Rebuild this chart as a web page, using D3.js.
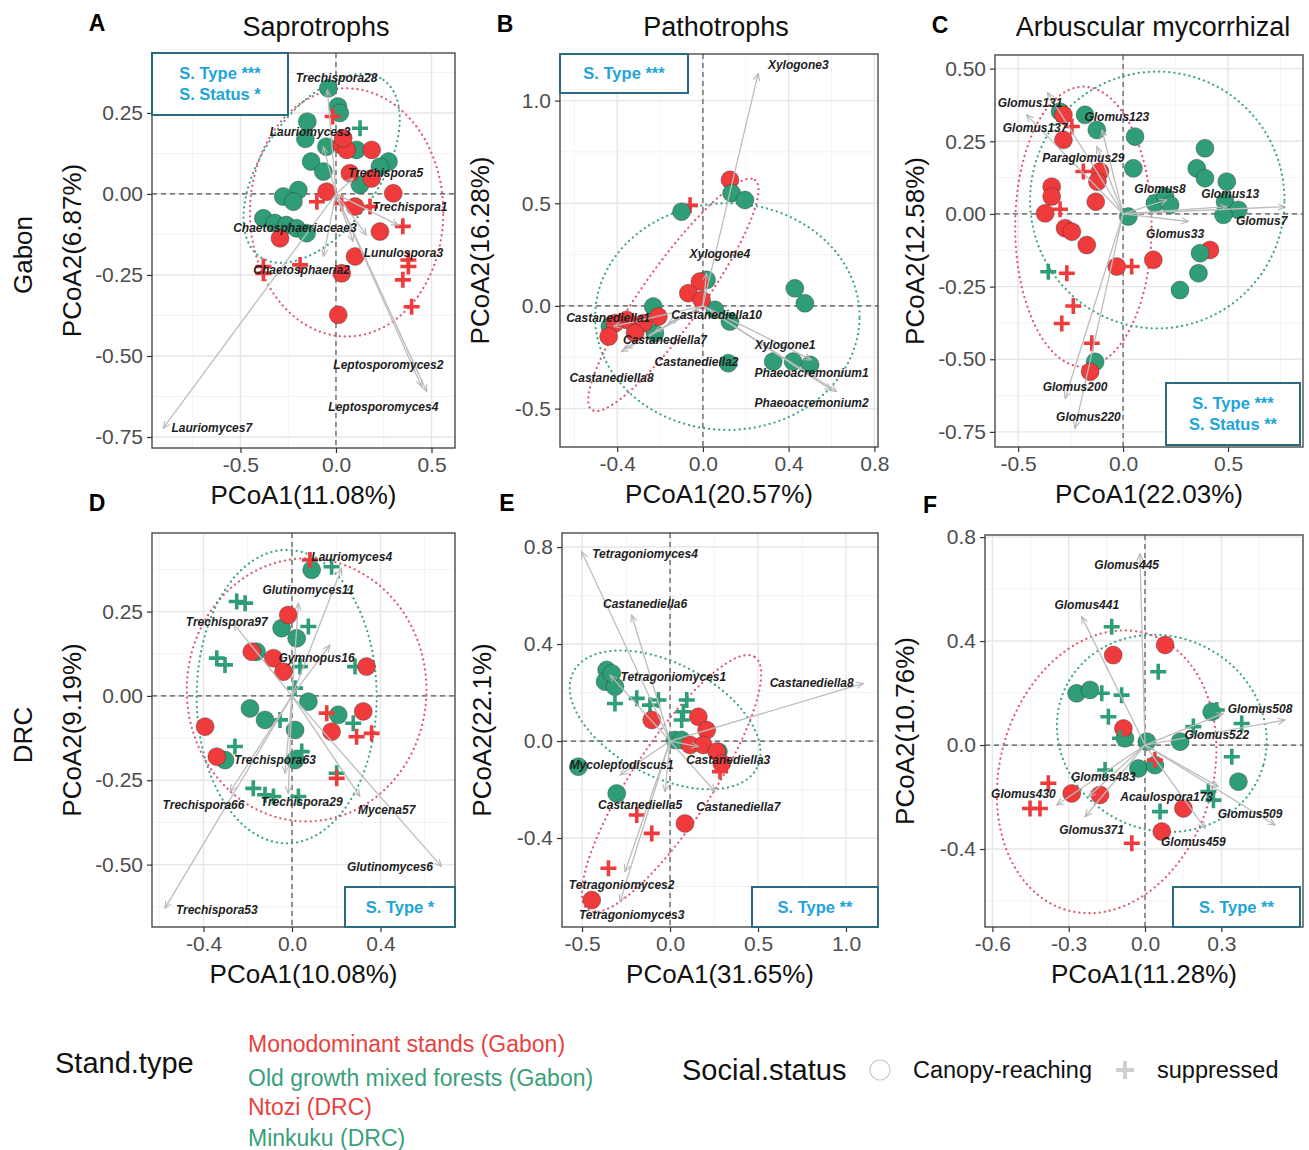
<!DOCTYPE html>
<html>
<head>
<meta charset="utf-8">
<script src="https://cdn.jsdelivr.net/npm/d3@7"></script>
<style>
body { margin: 0; background: #fff; }
svg { display: block; }
text { font-family: "Liberation Sans", Arial, sans-serif; }
</style>
</head>
<body>
<script>
// ---- data -------------------------------------------------------------
var standTypes = ["Monodominant stands (Gabon)", "Old growth mixed forests (Gabon)", "Ntozi (DRC)", "Minkuku (DRC)"];
var socialStatus = ["Canopy-reaching", "suppressed"];
var guildTitles = ["Saprotrophs", "Pathotrophs", "Arbuscular mycorrhizal"];
var regionTitles = ["Gabon", "DRC"];
var panelLetters = ["A", "B", "C", "D", "E", "F"];
var xTitles = ["PCoA1(11.08%)", "PCoA1(20.57%)", "PCoA1(22.03%)", "PCoA1(10.08%)", "PCoA1(31.65%)", "PCoA1(11.28%)"];
var yTitles = ["PCoA2(6.87%)", "PCoA2(16.28%)", "PCoA2(12.58%)", "PCoA2(9.19%)", "PCoA2(22.1%)", "PCoA2(10.76%)"];
var statTexts = [["S. Type ***", "S. Status *"], ["S. Type ***"], ["S. Type ***", "S. Status **"], ["S. Type *"], ["S. Type **"], ["S. Type **"]];

var xTicks = [[-0.5, 0, 0.5], [-0.4, 0, 0.4, 0.8], [-0.5, 0, 0.5], [-0.4, 0, 0.4], [-0.5, 0, 0.5, 1.0], [-0.6, -0.3, 0, 0.3]];
var yTicks = [[-0.75, -0.5, -0.25, 0, 0.25], [-0.5, 0, 0.5, 1.0], [-0.75, -0.5, -0.25, 0, 0.25, 0.5], [-0.5, -0.25, 0, 0.25], [-0.4, 0, 0.4, 0.8], [-0.4, 0, 0.4, 0.8]];
var yDigits = [2, 1, 2, 2, 1, 1];

// points: [PCoA1, PCoA2, stand type index, social status index]
var ptsA = [
  [-0.04,0.326,1,0],[0.01,0.27,1,0],[0.02,0.25,1,0],[-0.15,0.223,1,0],[-0.16,0.17,1,0],[-0.05,0.146,1,0],
  [-0.13,0.10,1,0],[-0.066,0.069,1,0],[0.108,0.136,1,0],[0.275,0.10,1,0],[0.23,0.084,1,0],[0.126,0.028,1,0],
  [-0.197,0.012,1,0],[-0.276,-0.008,1,0],[-0.223,-0.024,1,0],[-0.38,-0.075,1,0],[-0.32,-0.09,1,0],
  [-0.26,-0.096,1,0],[-0.206,-0.106,1,0],[-0.154,-0.121,1,0],
  [0.03,0.151,0,0],[0.056,0.136,0,0],[0.038,0.172,0,0],[0.187,0.136,0,0],[0.073,0.064,0,0],[0.187,0.048,0,0],
  [0.30,0.002,0,0],[-0.049,0.007,0,0],[0.1,-0.039,0,0],[0.23,-0.116,0,0],[-0.293,-0.137,0,0],[0.1,-0.193,0,0],
  [0.03,-0.245,0,0],[0.012,-0.373,0,0],
  [0.126,0.203,1,1],
  [-0.017,0.239,0,1],[-0.10,-0.024,0,1],[0.03,-0.029,0,1],[0.178,-0.039,0,1],[0.35,-0.10,0,1],[0.379,-0.204,0,1],
  [0.379,-0.224,0,1],[0.35,-0.265,0,1],[0.396,-0.348,0,1],[-0.38,-0.224,0,1],[-0.38,-0.245,0,1],[-0.188,-0.219,0,1]
];
var ptsB = [
  [-0.06,0.49,0,1],
  [0.126,0.614,0,0],
  [0.134,0.549,1,0],[0.196,0.516,1,0],[-0.1,0.459,1,0],[0.017,0.127,1,0],[0.429,0.086,1,0],[0.476,0.013,1,0],
  [-0.232,-0.003,1,0],[0.056,-0.019,1,0],[0.126,-0.076,1,0],[-0.434,-0.1,1,0],[0.118,-0.279,1,0],
  [0.328,-0.271,1,0],[0.421,-0.271,1,0],[0.5,-0.287,1,0],[-0.224,-0.133,1,0],
  [-0.014,0.119,0,0],[-0.068,0.062,0,0],[-0.006,0.029,0,0],[-0.208,-0.052,0,0],[-0.278,-0.084,0,0],
  [-0.356,-0.068,0,0],[-0.41,-0.084,0,0],[-0.44,-0.149,0,0],[-0.317,-0.133,0,0]
];
var ptsC = [
  [0.414,-0.124,0,0],
  [-0.3,0.352,1,0],[-0.181,0.341,1,0],[-0.125,0.289,1,0],[0.057,0.266,1,0],[0.049,0.157,1,0],[0.39,0.226,1,0],
  [0.351,0.157,1,0],[0.39,0.123,1,0],[0.494,0.111,1,0],[0.486,0.042,1,0],[0.549,0.014,1,0],[0.478,-0.003,1,0],
  [0.025,-0.009,1,0],[0.152,0.037,1,0],[0.2,0.06,1,0],[0.224,0.031,1,0],[0.367,-0.135,1,0],[0.359,-0.204,1,0],
  [0.271,-0.262,1,0],[-0.133,-0.509,1,0],
  [-0.284,0.341,0,0],[-0.284,0.255,0,0],[-0.11,0.146,0,0],[-0.122,0.111,0,0],[-0.13,0.042,0,0],[-0.34,0.094,0,0],
  [-0.34,0.06,0,0],[-0.371,0.002,0,0],[-0.276,-0.049,0,0],[-0.244,-0.061,0,0],[-0.173,-0.107,0,0],
  [-0.03,-0.181,0,0],[0.144,-0.158,0,0],[-0.157,-0.543,0,0],
  [-0.356,-0.199,1,1],
  [-0.244,0.301,0,1],[-0.189,0.146,0,1],[-0.3,0.016,0,1],[-0.268,-0.204,0,1],[-0.237,-0.317,0,1],
  [-0.292,-0.377,0,1],[-0.149,-0.445,0,1],[0.041,-0.181,0,1]
];
var ptsD = [
  [0.285,0.087,3,1],
  [0.089,0.374,3,0],[-0.047,0.201,3,0],[0.021,0.171,3,0],[-0.16,0.131,3,0],[0.074,-0.017,3,0],[-0.19,-0.037,3,0],
  [-0.122,-0.071,3,0],[0.014,-0.101,3,0],[0.209,-0.056,3,0],[-0.303,-0.19,3,0],[0.014,-0.19,3,0],
  [-0.017,0.24,2,0],[-0.182,0.131,2,0],[-0.084,0.112,2,0],[-0.039,0.072,2,0],[0.337,0.087,2,0],[0.322,-0.046,2,0],
  [-0.393,-0.091,2,0],[-0.34,-0.18,2,0],[0.179,-0.106,2,0],
  [0.179,0.383,3,1],[-0.25,0.28,3,1],[-0.212,0.275,3,1],[0.074,0.206,3,1],[-0.34,0.112,3,1],[-0.303,0.092,3,1],
  [0.036,0.087,3,1],[0.014,0.023,3,1],[-0.054,-0.071,3,1],[0.277,-0.081,3,1],[-0.258,-0.15,3,1],
  [0.044,-0.165,3,1],[0.202,-0.229,3,1],[-0.175,-0.274,3,1],[-0.122,-0.293,3,1],[-0.084,-0.298,3,1],[0.029,-0.298,3,1],
  [0.081,0.403,2,1],[0.157,-0.051,2,1],[0.292,-0.121,2,1],[0.36,-0.111,2,1],[0.202,-0.244,2,1]
];
var ptsE = [
  [-0.36,0.293,3,0],[-0.369,0.245,3,0],[-0.313,0.224,3,0],[-0.331,0.279,3,0],[0.028,0.004,3,0],[0.066,0.004,3,0],
  [0.275,-0.044,3,0],[-0.521,-0.106,3,0],[-0.303,-0.216,3,0],
  [-0.313,0.155,3,1],[-0.189,0.176,3,1],[-0.114,0.148,3,1],[-0.066,0.169,3,1],[0.095,0.169,3,1],[0.076,0.121,3,1],[0.066,0.087,3,1],
  [-0.104,0.087,2,0],[0.161,0.1,2,0],[0.208,0.045,2,0],[0.114,-0.016,2,0],[0.189,-0.016,2,0],[0.265,-0.044,2,0],
  [0.294,-0.092,2,0],[0.085,-0.34,2,0],[-0.445,-0.656,2,0],
  [0.284,-0.126,2,1],[-0.189,-0.305,2,1],[-0.104,-0.381,2,1],[-0.35,-0.525,2,1]
];
var ptsF = [
  [-0.269,0.199,3,0],[-0.216,0.212,3,0],[-0.079,0.026,3,0],[0.007,0.013,3,0],[0.138,0.013,3,0],[0.262,0.128,3,0],
  [-0.026,-0.09,3,0],[0.039,-0.077,3,0],[0.367,-0.141,3,0],
  [-0.125,0.346,2,0],[0.079,0.385,2,0],[-0.085,0.064,2,0],[-0.288,-0.186,2,0],[-0.177,-0.192,2,0],[0.151,-0.244,2,0],[0.066,-0.333,2,0],
  [-0.131,0.455,3,1],[0.052,0.282,3,1],[-0.17,0.199,3,1],[-0.092,0.192,3,1],[-0.144,0.109,3,1],[-0.098,0.026,3,1],
  [0.282,0.135,3,1],[0.19,0.071,3,1],[0.38,0.083,3,1],[0.341,-0.045,3,1],[0.249,-0.179,3,1],[0.269,-0.212,3,1],
  [0.059,-0.256,3,1],[-0.157,-0.096,3,1],
  [-0.38,-0.147,2,1],[-0.452,-0.244,2,1],[-0.413,-0.244,2,1],[-0.052,-0.378,2,1],[0.039,-0.058,2,1]
];

// fitted taxa vectors: [name, tip PCoA1, tip PCoA2, label PCoA1, label PCoA2]
var vecA = [
  ["Trechispora28", -0.045, 0.321, 0.003, 0.36], ["Lauriomyces3", -0.066, 0.146, -0.136, 0.192],
  ["Trechispora5", 0.09, 0.048, 0.26, 0.066], ["Trechispora1", 0.326, -0.096, 0.387, -0.039],
  ["Chaetosphaeriaceae3", 0.16, -0.127, -0.215, -0.103], ["Lunulospora3", 0.09, -0.147, 0.353, -0.183],
  ["Chaetosphaeria2", -0.066, -0.193, -0.18, -0.235], ["Leptosporomyces2", 0.449, -0.595, 0.274, -0.528],
  ["Leptosporomyces4", 0.475, -0.61, 0.248, -0.656], ["Lauriomyces7", -0.904, -0.723, -0.65, -0.723]
];
var vecB = [
  ["Xylogone3", 0.258, 1.133, 0.445, 1.174], ["Xylogone4", 0.017, 0.159, 0.079, 0.256],
  ["Castanediella10", -0.162, -0.084, 0.064, -0.044], ["Castanediella1", -0.418, -0.1, -0.442, -0.06],
  ["Castanediella7", -0.364, -0.206, -0.177, -0.166], ["Castanediella2", -0.224, -0.125, -0.03, -0.271],
  ["Castanediella8", -0.38, -0.222, -0.426, -0.352], ["Xylogone1", 0.507, -0.263, 0.383, -0.19],
  ["Phaeoacremonium1", 0.624, -0.417, 0.507, -0.328], ["Phaeoacremonium2", 0.6, -0.409, 0.507, -0.474]
];
var vecC = [
  ["Glomus131", -0.46, 0.341, -0.443, 0.381], ["Glomus137", -0.36, 0.418, -0.419, 0.295],
  ["Glomus123", -0.1, 0.289, -0.03, 0.335], ["Paraglomus29", -0.125, 0.232, -0.189, 0.192],
  ["Glomus8", 0.208, 0.048, 0.176, 0.088], ["Glomus13", 0.494, 0.025, 0.51, 0.069],
  ["Glomus7", 0.771, 0.025, 0.66, -0.023], ["Glomus33", 0.311, -0.026, 0.248, -0.067],
  ["Glomus200", -0.276, -0.635, -0.229, -0.595], ["Glomus220", -0.229, -0.738, -0.165, -0.698]
];
var vecD = [
  ["Lauriomyces4", 0.224, 0.378, 0.27, 0.413], ["Glutinomyces11", 0.029, 0.275, 0.074, 0.314],
  ["Trechispora97", -0.265, 0.215, -0.295, 0.22], ["Gymnopus16", 0.172, 0.151, 0.111, 0.112],
  ["Trechispora63", -0.032, -0.229, -0.077, -0.19], ["Trechispora66", -0.28, -0.284, -0.4, -0.323],
  ["Trechispora29", -0.017, -0.289, 0.044, -0.313], ["Mycena57", 0.307, -0.298, 0.428, -0.338],
  ["Glutinomyces6", 0.676, -0.506, 0.443, -0.508], ["Trechispora53", -0.574, -0.629, -0.34, -0.634]
];
var vecE = [
  ["Tetragoniomyces4", -0.502, 0.781, -0.142, 0.774], ["Castanediella6", -0.218, 0.52, -0.142, 0.568],
  ["Tetragoniomyces1", -0.341, 0.272, 0.019, 0.265], ["Castanediella8", 1.098, 0.238, 0.805, 0.24],
  ["Mycoleptodiscus1", -0.284, -0.14, -0.275, -0.099], ["Castanediella3", 0.161, -0.023, 0.331, -0.078],
  ["Castanediella5", -0.028, -0.209, -0.17, -0.264], ["Castanediella7", 0.256, -0.209, 0.388, -0.271],
  ["Tetragoniomyces2", -0.256, -0.539, -0.275, -0.594], ["Tetragoniomyces3", -0.284, -0.663, -0.218, -0.718]
];
var vecF = [
  ["Glomus445", -0.02, 0.737, -0.072, 0.692], ["Glomus441", -0.249, 0.494, -0.229, 0.538],
  ["Glomus508", 0.55, 0.096, 0.452, 0.141], ["Glomus522", 0.308, 0.122, 0.282, 0.038],
  ["Glomus509", 0.511, -0.308, 0.413, -0.263], ["Glomus459", 0.236, -0.321, 0.19, -0.372],
  ["Acaulospora173", 0.288, -0.16, 0.085, -0.199], ["Glomus483", -0.223, -0.199, -0.164, -0.122],
  ["Glomus430", -0.347, -0.231, -0.478, -0.186], ["Glomus371", -0.236, -0.276, -0.21, -0.327]
];

// confidence ellipses: [stand type, centre x, centre y, axis1 dx, axis1 dy, axis2 dx, axis2 dy]
var ellA = [[0, 0.056, -0.057, 0.506, 0, 0, 0.383], [1, -0.075, 0.079, 0.323, 0.273, 0.251, -0.103]];
var ellB = [[0, -0.138, 0.054, 0.381, 0.56, 0.114, -0.084], [1, 0.114, -0.052, 0.617, 0, 0, 0.552]];
var ellC = [[0, -0.189, -0.044, 0.325, 0, 0, 0.482], [1, 0.163, 0.048, 0.606, 0, 0, 0.442]];
var ellD = [[2, 0.066, 0.018, 0.542, 0, 0, 0.39], [3, -0.024, -0.002, 0.407, 0, 0, 0.435]];
var ellE = [[2, 0.009, -0.175, 0.473, 0.522, 0.189, -0.091], [3, -0.028, 0.087, 0.521, -0.199, -0.15, -0.206]];
var ellF = [[2, -0.151, -0.103, 0.157, 0.532, 0.402, -0.114], [3, 0.066, 0.045, 0.40, -0.12, 0.10, 0.36]];

// ---- layout -------------------------------------------------------------
var typeColor = ["#ef3b3b", "#2f9e76", "#ef3b3b", "#2f9e76"];
var ellColor = ["#e2566b", "#3aa585", "#e2566b", "#3aa585"];
var legendColor = ["#e8413f", "#3a9f7a", "#e8413f", "#3a9f7a"];

var panels = [
  { box: [152, 455, 53, 448], xDom: [-0.963, 0.623], yDom: [-0.784, 0.435], stat: [152, 53, 136, 62], pts: ptsA, vec: vecA, ell: ellA },
  { box: [560, 878, 54, 447], xDom: [-0.667, 0.817], yDom: [-0.687, 1.227], stat: [560, 54, 128, 39], pts: ptsB, vec: vecB, ell: ellB },
  { box: [995, 1303, 55, 447], xDom: [-0.61, 0.857], yDom: [-0.802, 0.547], stat: [1166, 383, 134, 62], pts: ptsC, vec: vecC, ell: ellC },
  { box: [152, 455, 533, 927], xDom: [-0.633, 0.737], yDom: [-0.685, 0.483], stat: [345, 887, 110, 40], pts: ptsD, vec: vecD, ell: ellD },
  { box: [562, 878, 533, 927], xDom: [-0.614, 1.182], yDom: [-0.767, 0.858], stat: [752, 887, 126, 40], pts: ptsE, vec: vecE, ell: ellE },
  { box: [985, 1303, 535, 927], xDom: [-0.629, 0.621], yDom: [-0.70, 0.808], stat: [1173, 887, 127, 40], pts: ptsF, vec: vecF, ell: ellF }
];

var svg = d3.select("body").append("svg").attr("width", 1309).attr("height", 1150);
var defs = svg.append("defs");
defs.append("marker").attr("id", "head")
  .attr("viewBox", "0 0 10 10").attr("refX", 9).attr("refY", 5)
  .attr("markerWidth", 8).attr("markerHeight", 8)
  .attr("markerUnits", "userSpaceOnUse").attr("orient", "auto")
  .append("path").attr("d", "M0,1 L9,5 L0,9")
  .attr("fill", "none").attr("stroke", "#b5b5b5").attr("stroke-width", 1.3);

function fmt(digits) {
  var f = d3.format("." + digits + "f");
  return function(v) { return f(v).replace("\u2212", "-"); };
}

function minorBreaks(ticks, dom) {
  var step = ticks[1] - ticks[0], out = [];
  for (var v = ticks[0] - step / 2; v <= dom[1]; v += step)
    if (v >= dom[0]) out.push(v);
  return out;
}

function drawPanel(p, i) {
  var x = d3.scaleLinear().domain(p.xDom).range([p.box[0], p.box[1]]);
  var y = d3.scaleLinear().domain(p.yDom).range([p.box[3], p.box[2]]);
  var w = p.box[1] - p.box[0], h = p.box[3] - p.box[2];
  var g = svg.append("g");

  defs.append("clipPath").attr("id", "clip" + i)
    .append("rect").attr("x", p.box[0]).attr("y", p.box[2]).attr("width", w).attr("height", h);

  // grid
  var grid = g.append("g");
  grid.selectAll(".mx").data(minorBreaks(xTicks[i], p.xDom)).join("line")
    .attr("x1", d => x(d)).attr("x2", d => x(d)).attr("y1", p.box[2]).attr("y2", p.box[3])
    .attr("stroke", "#f0f0f0").attr("stroke-width", 0.8);
  grid.selectAll(".my").data(minorBreaks(yTicks[i], p.yDom)).join("line")
    .attr("y1", d => y(d)).attr("y2", d => y(d)).attr("x1", p.box[0]).attr("x2", p.box[1])
    .attr("stroke", "#f0f0f0").attr("stroke-width", 0.8);
  grid.selectAll(".Mx").data(xTicks[i]).join("line")
    .attr("x1", d => x(d)).attr("x2", d => x(d)).attr("y1", p.box[2]).attr("y2", p.box[3])
    .attr("stroke", "#e6e6e6").attr("stroke-width", 1.4);
  grid.selectAll(".My").data(yTicks[i]).join("line")
    .attr("y1", d => y(d)).attr("y2", d => y(d)).attr("x1", p.box[0]).attr("x2", p.box[1])
    .attr("stroke", "#e6e6e6").attr("stroke-width", 1.4);

  // zero reference lines
  g.append("line").attr("x1", x(0)).attr("x2", x(0)).attr("y1", p.box[2]).attr("y2", p.box[3])
    .attr("stroke", "#555").attr("stroke-width", 1.2).attr("stroke-dasharray", "5,4");
  g.append("line").attr("y1", y(0)).attr("y2", y(0)).attr("x1", p.box[0]).attr("x2", p.box[1])
    .attr("stroke", "#555").attr("stroke-width", 1.2).attr("stroke-dasharray", "5,4");

  var inner = g.append("g").attr("clip-path", "url(#clip" + i + ")");

  // ellipses
  var line = d3.line().x(d => x(d[0])).y(d => y(d[1]));
  inner.selectAll(".ell").data(p.ell).join("path")
    .attr("d", function(e) {
      var ring = d3.range(0, 121).map(function(k) {
        var t = k / 120 * 2 * Math.PI;
        return [e[1] + e[3] * Math.cos(t) + e[5] * Math.sin(t), e[2] + e[4] * Math.cos(t) + e[6] * Math.sin(t)];
      });
      return line(ring);
    })
    .attr("fill", "none").attr("stroke", e => ellColor[e[0]])
    .attr("stroke-width", 2.2).attr("stroke-linecap", "round").attr("stroke-dasharray", "0.1,5");

  // points
  inner.selectAll(".pt").data(p.pts).join(function(enter) {
    return enter.append(function(d) {
      return document.createElementNS("http://www.w3.org/2000/svg", d[3] === 0 ? "circle" : "path");
    });
  })
    .each(function(d) {
      var el = d3.select(this);
      if (d[3] === 0) {
        el.attr("cx", x(d[0])).attr("cy", y(d[1])).attr("r", 9)
          .attr("fill", typeColor[d[2]]).attr("stroke", "rgba(40,40,40,0.45)").attr("stroke-width", 0.8);
      } else {
        el.attr("d", "M-8,0H8M0,-8V8").attr("transform", "translate(" + x(d[0]) + "," + y(d[1]) + ")")
          .attr("fill", "none").attr("stroke", typeColor[d[2]]).attr("stroke-width", 3.6);
      }
    });

  // vectors
  inner.selectAll(".vec").data(p.vec).join("line")
    .attr("x1", x(0)).attr("y1", y(0))
    .attr("x2", d => x(d[1])).attr("y2", d => y(d[2]))
    .attr("stroke", "#bdbdbd").attr("stroke-width", 1.3).attr("marker-end", "url(#head)");
  inner.selectAll(".lab").data(p.vec).join("text")
    .attr("x", d => x(d[3])).attr("y", d => y(d[4])).attr("dy", "0.35em")
    .attr("text-anchor", "middle").attr("font-size", 12).attr("font-weight", "bold")
    .attr("font-style", "italic").attr("fill", "#1e1e1e").text(d => d[0]);

  // border
  g.append("rect").attr("x", p.box[0]).attr("y", p.box[2]).attr("width", w).attr("height", h)
    .attr("fill", "none").attr("stroke", "#4a4a4a").attr("stroke-width", 1.4);

  // axes
  var ax = g.append("g").attr("transform", "translate(0," + p.box[3] + ")")
    .call(d3.axisBottom(x).tickValues(xTicks[i]).tickFormat(fmt(1)).tickSize(5).tickPadding(4));
  var ay = g.append("g").attr("transform", "translate(" + p.box[0] + ",0)")
    .call(d3.axisLeft(y).tickValues(yTicks[i]).tickFormat(fmt(yDigits[i])).tickSize(5).tickPadding(4));
  [ax, ay].forEach(function(a) {
    a.select(".domain").remove();
    a.selectAll(".tick line").attr("stroke", "#333").attr("stroke-width", 1.2);
    a.selectAll(".tick text").attr("fill", "#4d4d4d").attr("font-size", 21)
      .attr("font-family", "'Liberation Sans', Arial, sans-serif");
  });

  // axis titles
  svg.append("text").attr("x", (p.box[0] + p.box[1]) / 2).attr("y", p.box[3] + 56)
    .attr("text-anchor", "middle").attr("font-size", 26).attr("fill", "#111").text(xTitles[i]);
  var ytx = p.box[0] - 80;
  svg.append("text").attr("transform", "translate(" + ytx + "," + ((p.box[2] + p.box[3]) / 2) + ") rotate(-90)")
    .attr("text-anchor", "middle").attr("dy", "0.35em").attr("font-size", 26).attr("fill", "#111").text(yTitles[i]);

  // panel letter
  svg.append("text").attr("x", p.box[0] - 55).attr("y", p.box[2] - 22)
    .attr("text-anchor", "middle").attr("font-size", 23).attr("font-weight", "bold").text(panelLetters[i]);

  // statistics box
  var s = p.stat, lines = statTexts[i];
  g.append("rect").attr("x", s[0]).attr("y", s[1]).attr("width", s[2]).attr("height", s[3])
    .attr("fill", "#fff").attr("stroke", "#2b6a80").attr("stroke-width", 2);
  g.selectAll(".st").data(lines).join("text")
    .attr("x", s[0] + s[2] / 2)
    .attr("y", (d, k) => s[1] + s[3] / 2 + (k - (lines.length - 1) / 2) * 21)
    .attr("dy", "0.35em").attr("text-anchor", "middle")
    .attr("font-family", "'Open Sans', sans-serif").attr("font-weight", "bold")
    .attr("font-size", 16.5).attr("fill", "#22a4d8").text(d => d);
}

panels.forEach(drawPanel);

// column and row titles
var colCentres = [316, 716, 1153];
svg.selectAll(".col").data(guildTitles).join("text")
  .attr("x", (d, k) => colCentres[k]).attr("y", 36)
  .attr("text-anchor", "middle").attr("font-size", 27).attr("fill", "#111").text(d => d);
var rowCentres = [255, 735];
svg.selectAll(".row").data(regionTitles).join("text")
  .attr("transform", (d, k) => "translate(23," + rowCentres[k] + ") rotate(-90)")
  .attr("text-anchor", "middle").attr("dy", "0.35em").attr("font-size", 26).attr("fill", "#111").text(d => d);

// legend
var leg = svg.append("g");
leg.append("text").attr("x", 55).attr("y", 1073).attr("font-size", 29).attr("fill", "#111").text("Stand.type");
leg.selectAll(".st").data(standTypes).join("text")
  .attr("x", 248).attr("y", (d, k) => [1052, 1086, 1115, 1146][k])
  .attr("font-family", "'Open Sans', sans-serif").attr("font-size", 23)
  .attr("fill", (d, k) => legendColor[k]).text(d => d);

leg.append("text").attr("x", 682).attr("y", 1080).attr("font-size", 29).attr("fill", "#111").text("Social.status");
leg.append("circle").attr("cx", 880).attr("cy", 1070).attr("r", 10)
  .attr("fill", "#fff").attr("stroke", "#c8c8c8").attr("stroke-width", 1.2);
leg.append("text").attr("x", 913).attr("y", 1078).attr("font-size", 23.5).attr("fill", "#111").text(socialStatus[0]);
leg.append("path").attr("d", "M-9,0H9M0,-9V9").attr("transform", "translate(1125,1070)")
  .attr("fill", "none").attr("stroke", "#cfcfcf").attr("stroke-width", 4);
leg.append("text").attr("x", 1157).attr("y", 1078).attr("font-size", 23.5).attr("fill", "#111").text(socialStatus[1]);
</script>
</body>
</html>
